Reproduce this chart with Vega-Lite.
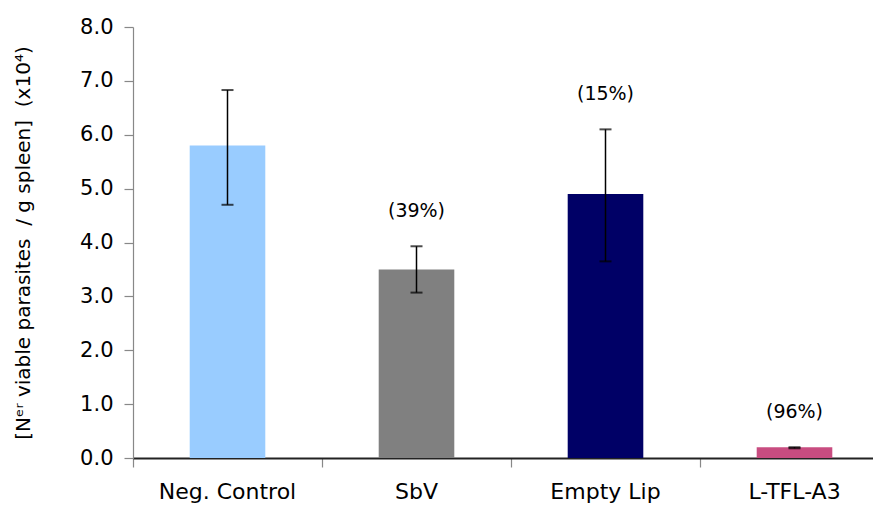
{
  "$schema": "https://vega.github.io/schema/vega-lite/v6.json",
  "autosize": "none",
  "width": 756,
  "height": 431,
  "padding": {"left": 133, "top": 27, "right": 0, "bottom": 52},
  "background": "white",
  "config": {
    "view": {"stroke": null},
    "font": "DejaVu Sans"
  },
  "data": {
    "values": [
      {"group": "Neg. Control", "value": 5.8, "lo": 4.7, "hi": 6.83, "label": ""},
      {"group": "SbV", "value": 3.5, "lo": 3.07, "hi": 3.93, "label": "(39%)"},
      {"group": "Empty Lip", "value": 4.9, "lo": 3.65, "hi": 6.1, "label": "(15%)"},
      {"group": "L-TFL-A3", "value": 0.2, "lo": 0.18, "hi": 0.2, "label": "(96%)"}
    ]
  },
  "encoding": {
    "x": {
      "field": "group", "type": "nominal", "sort": null,
      "scale": {"paddingInner": 0, "paddingOuter": 0},
      "axis": {
        "title": null, "labelAngle": 0, "labelFontSize": 22, "labelColor": "#000",
        "domainColor": "#222", "domainWidth": 2,
        "tickColor": "#888", "tickSize": 9, "tickWidth": 1.2, "bandPosition": 0,
        "labelPadding": 14
      }
    }
  },
  "layer": [
    {
      "mark": {"type": "bar", "width": {"band": 0.4}},
      "encoding": {
        "y": {
          "field": "value", "type": "quantitative",
          "scale": {"domain": [0, 8], "nice": false},
          "axis": {
            "title": "[Nᵉʳ viable parasites \u00a0/ g spleen] \u00a0(x10⁴)",
            "titleFontSize": 20, "titleFontWeight": "normal", "titleColor": "#000",
            "titleX": -100,
            "format": ".1f", "values": [0, 1, 2, 3, 4, 5, 6, 7, 8],
            "labelOverlap": false,
            "labelFontSize": 21, "labelColor": "#000", "labelPadding": 11,
            "domainColor": "#888", "domainWidth": 1.2,
            "tickColor": "#888", "tickSize": 9, "tickWidth": 1.2,
            "grid": false
          }
        },
        "color": {
          "field": "group", "type": "nominal", "legend": null,
          "scale": {
            "domain": ["Neg. Control", "SbV", "Empty Lip", "L-TFL-A3"],
            "range": ["#99CCFF", "#808080", "#000066", "#C84C80"]
          }
        }
      }
    },
    {
      "mark": {"type": "rule", "color": "#000", "strokeWidth": 1.5},
      "encoding": {
        "y": {"field": "lo", "type": "quantitative"},
        "y2": {"field": "hi"}
      }
    },
    {
      "mark": {"type": "tick", "color": "#000", "thickness": 2, "size": 12, "orient": "horizontal"},
      "encoding": {"y": {"field": "lo", "type": "quantitative"}}
    },
    {
      "mark": {"type": "tick", "color": "#000", "thickness": 2, "size": 12, "orient": "horizontal"},
      "encoding": {"y": {"field": "hi", "type": "quantitative"}}
    },
    {
      "mark": {"type": "text", "fontSize": 19, "color": "#000", "baseline": "middle", "dy": -35},
      "encoding": {
        "y": {"field": "hi", "type": "quantitative"},
        "text": {"field": "label"}
      }
    }
  ]
}
